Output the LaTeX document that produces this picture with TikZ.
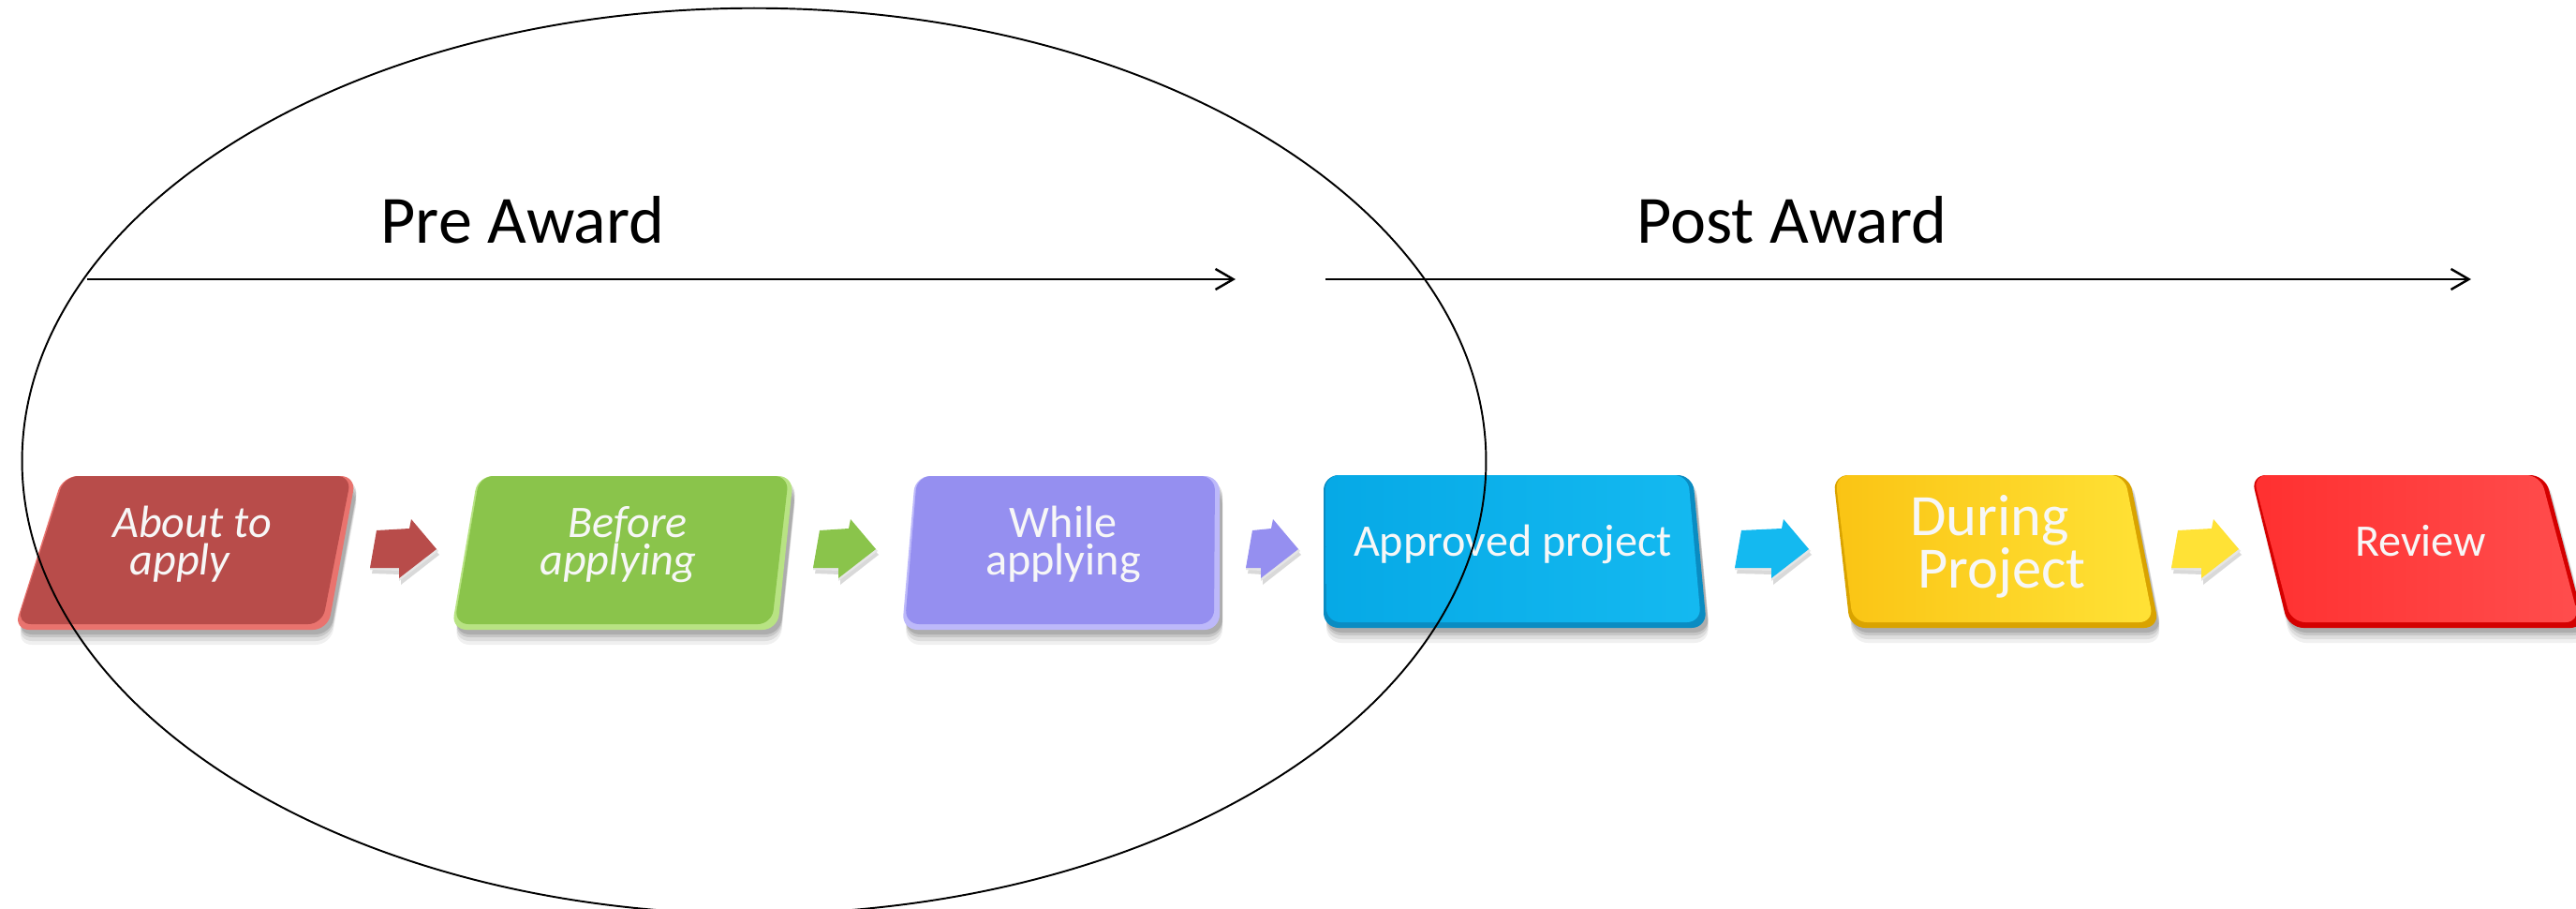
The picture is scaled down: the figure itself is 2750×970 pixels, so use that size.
\documentclass[tikz,border=0pt]{standalone}
\usepackage{fontspec}
\setmainfont{Carlito}
\usetikzlibrary{shapes.geometric,arrows.meta}
\definecolor{cRedA}{HTML}{B84C4A}\definecolor{cRedAl}{HTML}{E9736E}
\definecolor{cGrn}{HTML}{8AC44B}\definecolor{cGrnl}{HTML}{B8E383}
\definecolor{cPur}{HTML}{958FF0}\definecolor{cPurl}{HTML}{BDB9FA}
\definecolor{cBluL}{HTML}{06A9E6}\definecolor{cBluR}{HTML}{14B9F0}\definecolor{cBlud}{HTML}{0A8CC2}
\definecolor{cYelL}{HTML}{FAC414}\definecolor{cYelR}{HTML}{FFE236}\definecolor{cYeld}{HTML}{D9A300}
\definecolor{cRedBL}{HTML}{FF3030}\definecolor{cRedBR}{HTML}{FF4D4D}\definecolor{cRedBd}{HTML}{D40000}
\definecolor{txtw}{HTML}{F7F7F7}
% #1 TLx #2 TRx #3 BRx #4 BLx #5 top y #6 bottom y #7 left colour #8 right colour #9 edge
\newcommand\flowbox[9]{%
  \foreach \o/\a in {16/0.06,12/0.08,8/0.10,5/0.12}{%
    \fill[black,opacity=\a,rounded corners=0.16cm] (#1+3,#5+\o) -- (#2+3,#5+\o) -- (#3+3,#6+\o) -- (#4+3,#6+\o) -- cycle;}
  \fill[#9,rounded corners=0.16cm] (#1,#5) -- (#2,#5) -- (#3,#6) -- (#4,#6) -- cycle;
  \shade[left color=#7,right color=#8,rounded corners=0.15cm] (#1+2,#5) -- (#2-5,#5) -- (#3-6,#6-6) -- (#4+3,#6-6) -- cycle;
}
% #1 left x #2 tip x #3 fill
\newcommand\blockarrow[3]{%
  \fill[black,opacity=0.15] (#1+2,612) -- (#1+9,572) -- (#2-29,570) -- (#2-27,560) -- (#2+1,592) -- (#2-40,624) -- (#2-40,613) -- cycle;
  \fill[white!90!black] (#1,608) -- (#1+7,568) -- (#2-31,566) -- (#2-29,556) -- (#2,588) -- (#2-42,620) -- (#2-42,609) -- cycle;
  \fill[#3] (#1,606) -- (#1+7,566) -- (#2-31,564) -- (#2-29,554) -- (#2-2,586) -- (#2-42,617) -- (#2-42,606) -- cycle;
}
\tikzset{
  boxtxt/.style={text=txtw, anchor=center, inner sep=0pt, align=center, font=\fontsize{13.7pt}{11.4pt}\selectfont},
  boxtxtit/.style={boxtxt, font=\fontsize{13.7pt}{11.4pt}\selectfont\itshape},
  boxtxtbig/.style={boxtxt, font=\fontsize{17.8pt}{15.9pt}\selectfont},
  title/.style={anchor=base west, inner sep=0pt, font=\fontsize{20.5pt}{24pt}\selectfont},
  timeline/.style={line width=0.85pt, -{Straight Barb[length=0.19cm,width=0.22cm,line width=0.7pt]}},
}
\begin{document}
\begin{tikzpicture}[x=0.01cm,y=-0.01cm]
\useasboundingbox (0,0) rectangle (2750,970);
\fill[white] (0,0) rectangle (2750,970);

% boxes
\flowbox{67}{380}{350}{15}{508}{672}{cRedA}{cRedA}{cRedAl}
\flowbox{510}{847}{830}{482}{508}{672}{cGrn}{cGrn}{cGrnl}
\flowbox{977}{1302}{1302}{963}{508}{672}{cPur}{cPur}{cPurl}
\flowbox{1413}{1807}{1822}{1413}{507}{670}{cBluL}{cBluR}{cBlud}
\flowbox{1957}{2273}{2305}{1975}{507}{670}{cYelL}{cYelR}{cYeld}
\flowbox{2403}{2717}{2760}{2443}{507}{670}{cRedBL}{cRedBR}{cRedBd}

% small arrows
\blockarrow{395}{468}{cRedA}
\blockarrow{868}{937}{cGrn}
\blockarrow{1330}{1388}{cPur}
\blockarrow{1852}{1933}{cBluR}
\blockarrow{2318}{2392}{cYelR}

% texts
\node[boxtxtit] (t1) at (205,581) {About to\\apply\hspace*{0.26cm}};
\node[boxtxtit] (t2) at (670,581) {Before\\applying\hspace*{0.2cm}};
\node[boxtxt] (t3) at (1135,581) {While\\applying};
\node[boxtxt,anchor=base] (t4) at (1615,593) {Approved project};
\node[boxtxtbig] (t5) at (2137,583) {During\hspace*{0.26cm}\\Project};
\node[boxtxt,anchor=base] (t6) at (2584,593) {Review};

% titles and timelines
\node[title] (pre) at (406,260) {Pre Award};
\node[title] (post) at (1747,260) {Post Award};
\coordinate (preS) at (93,298);
\coordinate (preE) at (1319,298);
\coordinate (postS) at (1415,298);
\coordinate (postE) at (2638,298);
\draw[timeline] (preS) -- (preE);
\draw[timeline] (postS) -- (postE);

% ellipse
\node[draw, line width=0.55pt, ellipse, inner sep=0pt, minimum width=15.62cm, minimum height=9.66cm] (preset) at (805,492) {};
\end{tikzpicture}
\end{document}
